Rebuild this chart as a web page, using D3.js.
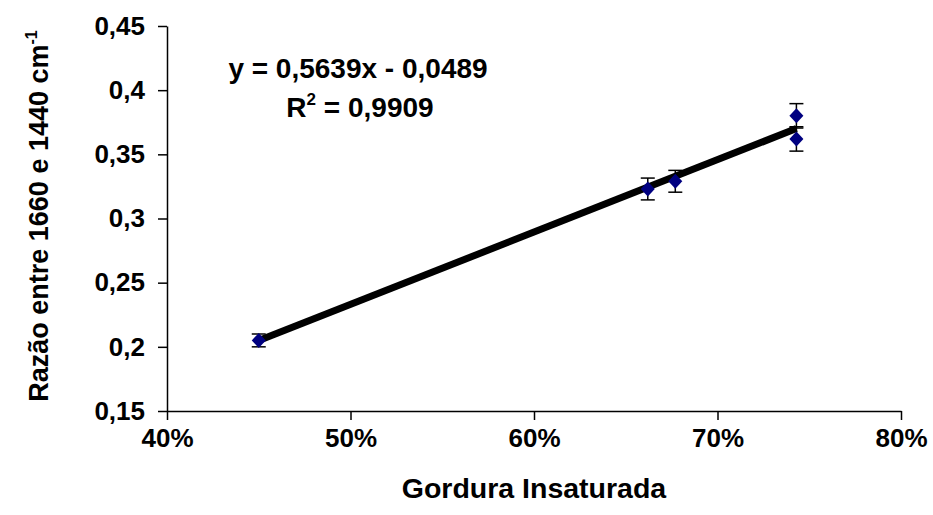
<!DOCTYPE html>
<html>
<head>
<meta charset="utf-8">
<script src="https://cdn.jsdelivr.net/npm/d3@7"></script>
<style>
  html, body { margin: 0; padding: 0; background: #fff; }
  svg text { font-family: "Liberation Sans", Arial, sans-serif; font-weight: bold; fill: #000; }
</style>
</head>
<body>
<svg id="chart" width="933" height="515"></svg>
<script>
// Unsaturated fat fraction vs. 1660/1440 cm-1 band ratio
const fatFraction = [0.450, 0.662, 0.677, 0.743, 0.743];
const bandRatio   = [0.205, 0.323, 0.329, 0.380, 0.362];
const ratioError  = [0.005, 0.0085, 0.0085, 0.0095, 0.0095];

const xTicks = [0.4, 0.5, 0.6, 0.7, 0.8];
const yTicks = [0.15, 0.2, 0.25, 0.3, 0.35, 0.4, 0.45];

const slope = 0.5639, intercept = -0.0489, r2 = 0.9909;

const svg = d3.select("#chart");
const plotL = 167, plotR = 901, plotT = 26, plotB = 411;

const x = d3.scaleLinear().domain([0.4, 0.8]).range([plotL, plotR]);
const y = d3.scaleLinear().domain([0.15, 0.45]).range([plotB, plotT]);

const commaFmt = v => String(+v.toFixed(2)).replace(".", ",");

// Y axis
const yAxis = svg.append("g")
  .attr("transform", `translate(${plotL},0)`)
  .call(d3.axisLeft(y).tickValues(yTicks).tickSize(9).tickSizeOuter(0).tickPadding(13).tickFormat(commaFmt));
// X axis
const xAxis = svg.append("g")
  .attr("transform", `translate(0,${plotB})`)
  .call(d3.axisBottom(x).tickValues(xTicks).tickSize(9).tickSizeOuter(0).tickPadding(8.5).tickFormat(d3.format(".0%")));

[yAxis, xAxis].forEach(g => {
  g.select(".domain").attr("stroke", "#000").attr("stroke-width", 1.5);
  g.selectAll(".tick line").attr("stroke", "#000").attr("stroke-width", 1.5);
  g.selectAll(".tick text").style("font-size", "26px").style("font-family", "'Liberation Sans', Arial, sans-serif").style("font-weight", "bold");
});

// Linear trendline across the data range
const xMin = d3.min(fatFraction), xMax = d3.max(fatFraction);
svg.append("line")
  .attr("x1", x(xMin)).attr("y1", y(slope * xMin + intercept))
  .attr("x2", x(xMax)).attr("y2", y(slope * xMax + intercept))
  .attr("stroke", "#000").attr("stroke-width", 7);

// Error bars
const pts = fatFraction.map((f, i) => ({ f, r: bandRatio[i], e: ratioError[i] }));
const eb = svg.append("g").attr("stroke", "#000").attr("stroke-width", 1.5);
pts.forEach(p => {
  const cx = x(p.f), y0 = y(p.r - p.e), y1 = y(p.r + p.e);
  eb.append("line").attr("x1", cx).attr("x2", cx).attr("y1", y0).attr("y2", y1);
  eb.append("line").attr("x1", cx - 7).attr("x2", cx + 7).attr("y1", y0).attr("y2", y0);
  eb.append("line").attr("x1", cx - 7).attr("x2", cx + 7).attr("y1", y1).attr("y2", y1);
});

// Diamond markers
const diamond = "M0,-7.5L7,0L0,7.5L-7,0Z";
svg.append("g").selectAll("path").data(pts).join("path")
  .attr("d", diamond)
  .attr("transform", p => `translate(${x(p.f)},${y(p.r)})`)
  .attr("fill", "#000080");

// Regression equation
svg.append("text").attr("x", 358).attr("y", 78).attr("text-anchor", "middle").style("font-size", "28px")
  .text(`y = ${String(slope).replace(".", ",")}x - ${String(-intercept).replace(".", ",")}`);
const rt = svg.append("text").attr("x", 360).attr("y", 117).attr("text-anchor", "middle").style("font-size", "28px");
rt.append("tspan").text("R");
rt.append("tspan").attr("dy", -12).style("font-size", "17px").text("2");
rt.append("tspan").attr("dy", 12).text(` = ${String(r2).replace(".", ",")}`);

// Axis titles
svg.append("text").attr("x", 534).attr("y", 498).attr("text-anchor", "middle")
  .style("font-size", "28.5px").text("Gordura Insaturada");

const yt = svg.append("text").attr("transform", "translate(48,216) rotate(-90)").attr("text-anchor", "middle")
  .style("font-size", "27px");
yt.append("tspan").text("Razão entre 1660 e 1440 cm");
yt.append("tspan").attr("dy", -11).style("font-size", "16px").text("-1");
</script>
</body>
</html>
